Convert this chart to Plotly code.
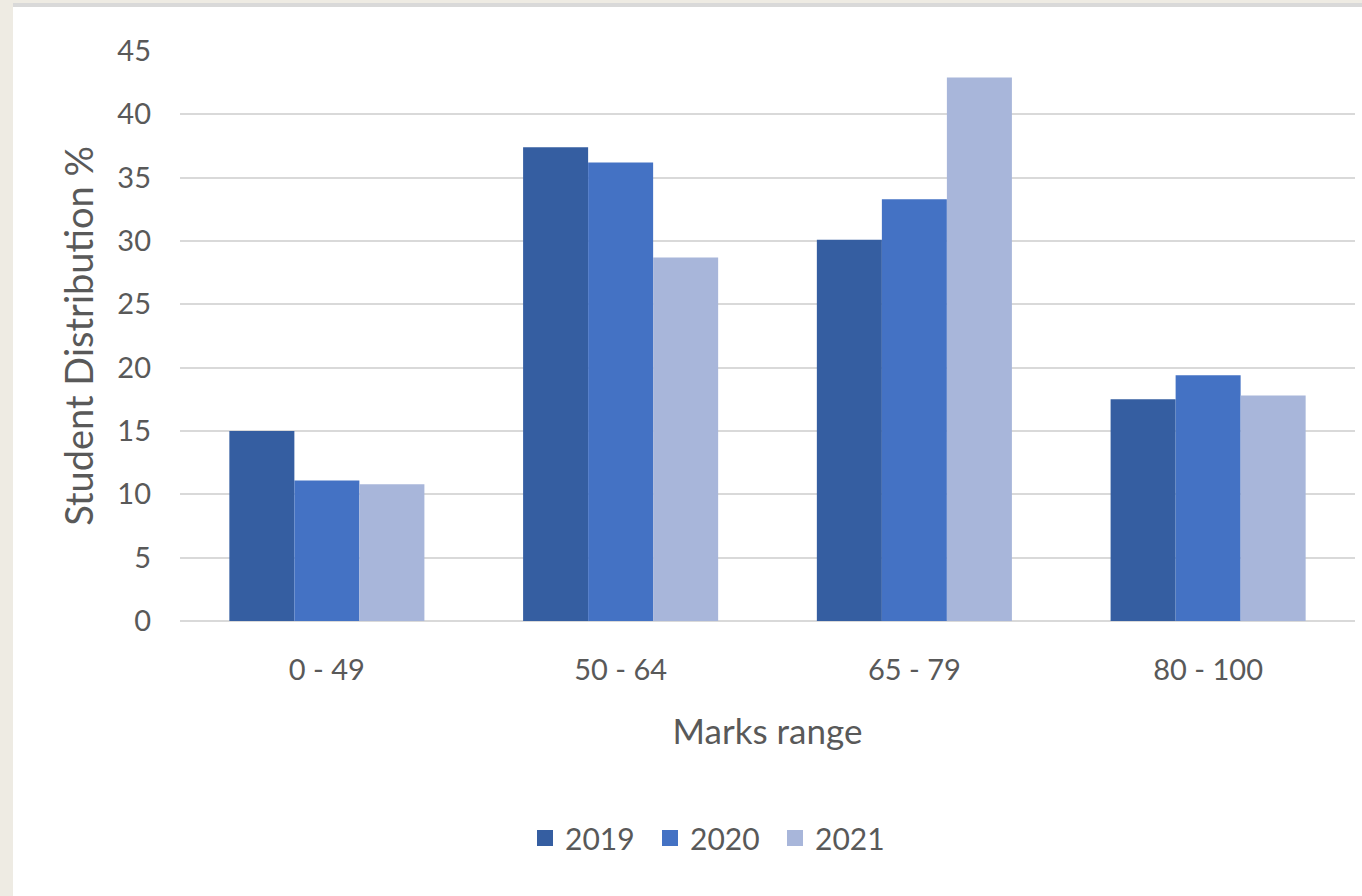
import plotly.graph_objects as go

categories = ["0 - 49", "50 - 64", "65 - 79", "80 - 100"]
years = ["2019", "2020", "2021"]
v2019 = [15.0, 37.4, 30.1, 17.5]
v2020 = [11.1, 36.2, 33.3, 19.4]
v2021 = [10.8, 28.7, 42.9, 17.8]
colors = ["#355EA1", "#4472C4", "#A8B6DA"]
legend_square_px = [545, 670, 795]

W, H = 1362, 896
L, R, T, B = 180, 7, 51, 275
pw, ph = W - L - R, H - T - B

def px_x(p):
    return (p - L) / pw

def px_y(p):
    return (H - B - p) / ph

fig = go.Figure()
for name, vals, c in zip(years, [v2019, v2020, v2021], colors):
    fig.add_trace(go.Bar(name=name, x=categories, y=vals, showlegend=False,
                         marker=dict(color=c, line=dict(width=0))))

legend_ids = ["legend", "legend2", "legend3"]
for name, c, lid in zip(years, colors, legend_ids):
    fig.add_trace(go.Scatter(name=name, x=[None], y=[None], mode="markers", legend=lid,
                             marker=dict(symbol="square", size=20, color=c), showlegend=True))

font_family = "Lato, 'Open Sans', sans-serif"
legend_common = dict(orientation="h", xanchor="left", y=px_y(838), yanchor="middle",
                     font=dict(size=30, color="#595959"), itemwidth=30,
                     bgcolor="rgba(0,0,0,0)", borderwidth=0)

fig.update_layout(
    width=W, height=H,
    margin=dict(l=L, r=R, t=T, b=B, pad=0),
    paper_bgcolor="#EEEBE3",
    plot_bgcolor="rgba(0,0,0,0)",
    barmode="group",
    bargap=0.336,
    bargroupgap=0,
    font=dict(family=font_family, color="#595959", size=28),
    showlegend=True,
    legend=dict(x=px_x(legend_square_px[0] - 20), **legend_common),
    legend2=dict(x=px_x(legend_square_px[1] - 20), **legend_common),
    legend3=dict(x=px_x(legend_square_px[2] - 20), **legend_common),
    xaxis=dict(showgrid=False, showline=False, ticks="", tickfont=dict(size=29, color="#595959"),
               ticklabelstandoff=29,
               title=dict(text="Marks range", font=dict(size=35, color="#595959"), standoff=34)),
    yaxis=dict(range=[0, 45], dtick=5, showgrid=True, gridcolor="#D9D9D9", gridwidth=2,
               zeroline=True, zerolinecolor="#D9D9D9", zerolinewidth=2, showline=False,
               tickfont=dict(size=29, color="#595959"), ticklabelstandoff=28,
               title=dict(text="Student Distribution %", font=dict(size=38, color="#595959"), standoff=12)),
    shapes=[
        dict(type="rect", xref="paper", yref="paper", x0=px_x(13), x1=px_x(1370), y0=px_y(7), y1=px_y(900),
             fillcolor="white", line=dict(width=0), layer="below"),
        dict(type="rect", xref="paper", yref="paper", x0=px_x(13), x1=px_x(1370), y0=px_y(3), y1=px_y(7),
             fillcolor="#D9D9D9", line=dict(width=0), layer="below"),
    ],
)
fig.write_html("out.html")
